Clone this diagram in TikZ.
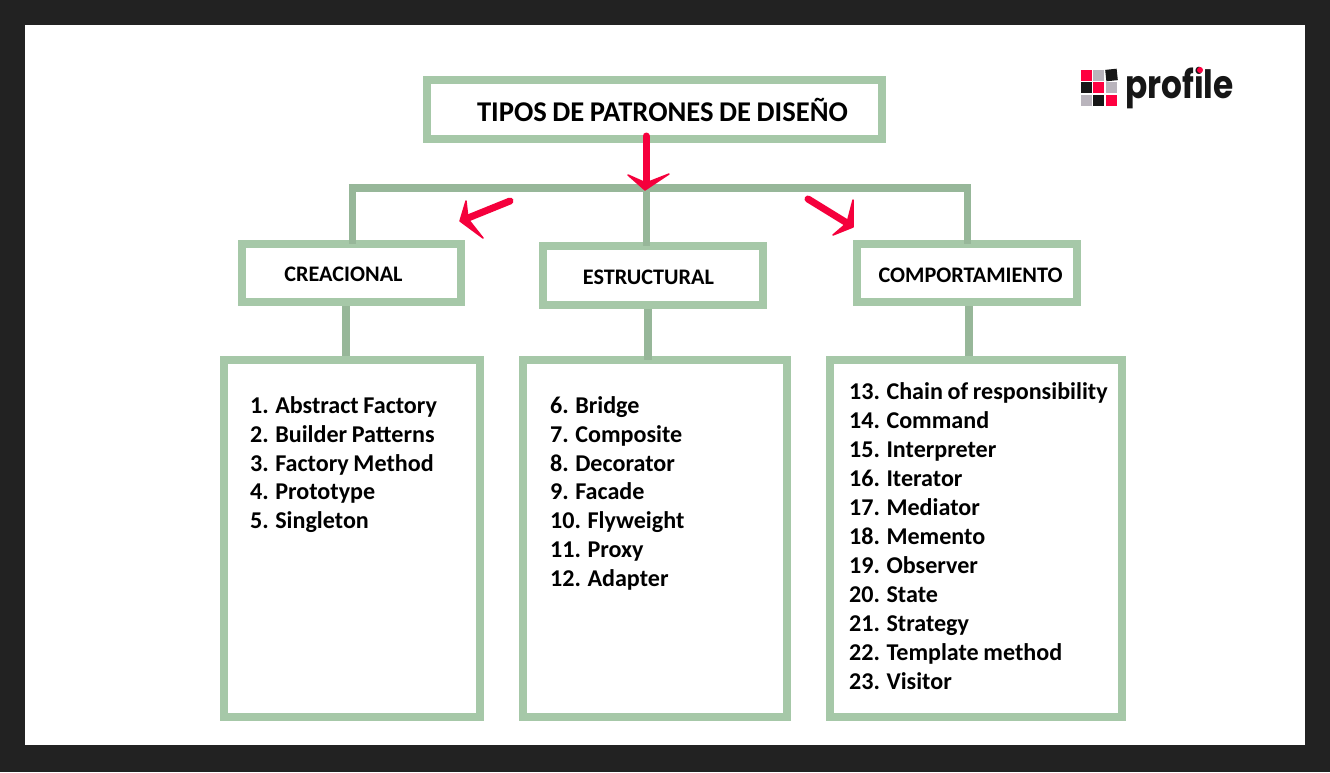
\documentclass[tikz,border=0pt]{standalone}
\usepackage{fontspec}
\setmainfont{Carlito}[WordSpace=0.85]
\newfontfamily\logofont[FakeStretch=0.84]{Poppins}
\definecolor{frame}{HTML}{222222}
\definecolor{boxgreen}{HTML}{A6C8A8}
\definecolor{bargreen}{HTML}{97B799}
\definecolor{arrowred}{HTML}{F5003C}
\definecolor{logored}{HTML}{FF0040}
\definecolor{logogray}{HTML}{B9B4BC}
\definecolor{logoblack}{HTML}{161616}
\tikzset{
  x=1pt,y=-1pt,
  panel/.style={draw=boxgreen,line width=8pt,fill=white,inner sep=0pt,outer sep=0pt},
  conn/.style={draw=bargreen,line width=7.5pt},
  redarrow/.style={draw=arrowred,line width=7pt,line cap=round,line join=round},
  redhead/.style={draw=arrowred,fill=arrowred,line width=1.5pt,line join=round},
  titletext/.style={font=\bfseries\fontsize{28.6}{32}\selectfont,text=black,inner sep=0pt},
  headtext/.style={font=\bfseries\fontsize{22.2}{26}\selectfont,text=black,inner sep=0pt},
  listtext/.style={font=\bfseries\fontsize{24.1}{28.95}\selectfont,text=black,inner sep=0pt,align=left,anchor=north west},
  logosq/.style={minimum size=11.5pt,inner sep=0pt,outer sep=0pt}
}
\begin{document}
\begin{tikzpicture}
\useasboundingbox (0,0) rectangle (1330,772);
\fill[frame] (0,0) rectangle (1330,772);
\fill[white] (25,25) rectangle (1305,745);
\coordinate (barL) at (352.5,188);
\coordinate (barM) at (646.5,188);
\coordinate (barR) at (967.5,188);
% boxes
\node[panel,minimum width=455pt,minimum height=59pt] (title) at (654.5,109.5) {};
\node[panel,minimum width=219pt,minimum height=58pt] (crea) at (351.5,273) {};
\node[panel,minimum width=220pt,minimum height=59pt] (estr) at (653,275.5) {};
\node[panel,minimum width=220pt,minimum height=58pt] (comp) at (967,273) {};
\node[panel,minimum width=256pt,minimum height=357pt] (l1) at (352,538.5) {};
\node[panel,minimum width=264pt,minimum height=357pt] (l2) at (655,538.5) {};
\node[panel,minimum width=292pt,minimum height=357pt] (l3) at (976,538.5) {};
\draw[conn] ([xshift=-3.75pt]barL) -- ([xshift=3.75pt]barR);
\draw[conn] (barL) -- (barL |- crea.north);
\draw[conn] (barM) -- (barM |- estr.north);
\draw[conn] (barR) -- (barR |- comp.north);
\draw[conn] (346,306) -- (346,356);
\draw[conn] (648,309) -- (648,360);
\draw[conn] (969,306) -- (969,356);
% texts
\node[titletext] (ttitle) at (662.5,110) {TIPOS DE PATRONES DE DISEÑO};
\node[headtext] (tcrea) at (343.5,274) {CREACIONAL};
\node[headtext] (testr) at (648.5,277) {ESTRUCTURAL};
\node[headtext] (tcomp) at (970.5,275) {COMPORTAMIENTO};
\node[listtext] (t1) at (250,396) {1. Abstract Factory\\2. Builder Patterns\\3. Factory Method\\4. Prototype\\5. Singleton};
\node[listtext] (t2) at (550,396) {6. Bridge\\7. Composite\\8. Decorator\\9. Facade\\10. Flyweight\\11. Proxy\\12. Adapter};
\node[listtext] (t3) at (849,382.5) {13. Chain of responsibility\\14. Command\\15. Interpreter\\16. Iterator\\17. Mediator\\18. Memento\\19. Observer\\20. State\\21. Strategy\\22. Template method\\23. Visitor};
% red arrows
\coordinate (a1s) at (646,136);
\coordinate (a1e) at (646,182);
\draw[redarrow] (a1s) -- (a1e);
\fill[redhead] (628,175) -- (645,190) -- (669,174) -- (646,183) -- cycle;
\coordinate (a2s) at (510,201);
\coordinate (a2e) at (468,218);
\draw[redarrow] (a2s) -- (a2e);
\fill[redhead] (466,201) -- (460,221) -- (483,238) -- (468,219) -- cycle;
\coordinate (a3s) at (808,199);
\coordinate (a3e) at (847,223);
\draw[redarrow] (a3s) -- (a3e);
\fill[redhead] (853,200) -- (853,227) -- (833,235) -- (847,223) -- cycle;
% logo
\node[logosq,fill=logored] (s11) at (1086.5,75.5) {};
\node[logosq,fill=logogray] (s12) at (1098.5,75.5) {};
\node[logosq,fill=logoblack,rotate=6] (s13) at (1111.5,75) {};
\node[logosq,fill=logoblack] (s21) at (1086.5,87.5) {};
\node[logosq,fill=logored] (s22) at (1098.5,87.5) {};
\node[logosq,fill=logogray] (s23) at (1111.5,87.5) {};
\node[logosq,fill=logogray] (s31) at (1086.5,100.5) {};
\node[logosq,fill=logoblack] (s32) at (1098.5,100.5) {};
\node[logosq,fill=logored] (s33) at (1111.5,100.5) {};
\node[inner sep=0pt,anchor=base west,text=logoblack,font=\logofont\bfseries\fontsize{39}{42}\selectfont] (logo) at (1125,98.5) {profile};
\fill[logored] (1200,70) circle (3pt);
\end{tikzpicture}
\end{document}
